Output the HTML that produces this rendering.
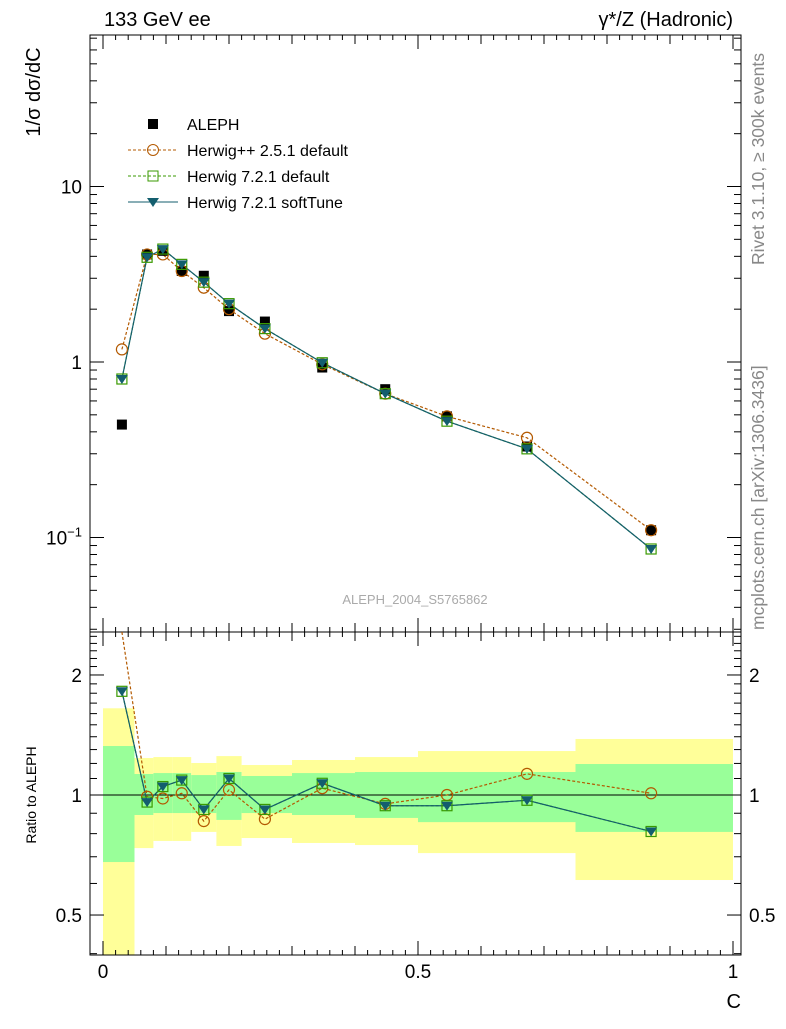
<!DOCTYPE html>
<html><head><meta charset="utf-8"><style>
body{margin:0;background:#fff;}
svg{font-family:"Liberation Sans",sans-serif;}
</style></head><body>
<svg id="chart" width="786" height="1024" viewBox="0 0 786 1024">
<g id="bands"></g>
<g id="frame"></g>
<g id="series"></g>
<text x="104" y="26" font-size="20">133 GeV ee</text>
<text x="733" y="26" font-size="20" text-anchor="end">γ*/Z (Hadronic)</text>
<text x="0" y="0" font-size="20" transform="translate(40,92) rotate(-90)" text-anchor="middle">1/σ  dσ/dC</text>
<text x="0" y="0" font-size="14" transform="translate(36,795) rotate(-90)" text-anchor="middle">Ratio to ALEPH</text>
<text x="741" y="1008" font-size="20" text-anchor="end">C</text>
<text x="0" y="0" font-size="17.5" fill="#888" transform="translate(764,265) rotate(-90)">Rivet 3.1.10, ≥ 300k events</text>
<text x="0" y="0" font-size="17.5" fill="#888" transform="translate(764,630) rotate(-90)">mcplots.cern.ch [arXiv:1306.3436]</text>
<text x="415" y="604" font-size="13" fill="#aaa" text-anchor="middle">ALEPH_2004_S5765862</text>
<g font-size="16">
 <rect x="148" y="119" width="10" height="10" fill="#000"/>
 <text x="187" y="130">ALEPH</text>
 <line x1="128" y1="150" x2="178" y2="150" stroke="#b35900" stroke-dasharray="3,2"/>
 <circle cx="153" cy="150" r="5.5" fill="none" stroke="#b35900"/>
 <text x="187" y="156">Herwig++ 2.5.1 default</text>
 <line x1="128" y1="176" x2="178" y2="176" stroke="#3a9a00" stroke-dasharray="3,2"/>
 <rect x="148" y="171" width="10" height="10" fill="none" stroke="#3a9a00"/>
 <text x="187" y="182">Herwig 7.2.1 default</text>
 <line x1="128" y1="202" x2="178" y2="202" stroke="#135e6e"/>
 <path d="M147,198 L159,198 L153,207 Z" fill="#135e6e"/>
 <text x="187" y="208">Herwig 7.2.1 softTune</text>
</g>
</svg>
<script>
const binEdges=[0,0.05,0.08,0.11,0.14,0.18,0.22,0.3,0.4,0.5,0.6,0.75,1.0];
const xCenters=[0.03,0.07,0.095,0.125,0.16,0.2,0.257,0.348,0.448,0.546,0.673,0.87];
const aleph=[0.44,4.1,4.3,3.3,3.1,1.95,1.7,0.93,0.70,0.49,0.33,0.11];
const herwigpp=[1.18,4.1,4.1,3.3,2.65,2.0,1.45,0.97,0.66,0.49,0.37,0.11];
const h721=[0.80,3.95,4.4,3.6,2.85,2.15,1.55,0.99,0.66,0.46,0.32,0.086];
const soft=[0.80,3.95,4.4,3.6,2.85,2.15,1.55,0.99,0.66,0.46,0.32,0.086];
const ratioHpp=[2.68,0.99,0.98,1.01,0.86,1.03,0.87,1.04,0.95,1.0,1.13,1.01];
const ratio721=[1.82,0.96,1.05,1.09,0.92,1.10,0.92,1.07,0.94,0.94,0.97,0.81];
const ratioSoft=[1.82,0.96,1.05,1.09,0.92,1.10,0.92,1.07,0.94,0.94,0.97,0.81];
const yellowHi=[1.65,1.238,1.245,1.245,1.203,1.252,1.189,1.224,1.245,1.289,1.289,1.382];
const yellowLo=[0.3,0.736,0.767,0.767,0.808,0.745,0.78,0.758,0.749,0.715,0.715,0.612];
const greenHi=[1.327,1.129,1.135,1.135,1.122,1.142,1.116,1.135,1.142,1.142,1.142,1.196];
const greenLo=[0.679,0.891,0.901,0.901,0.901,0.866,0.901,0.891,0.876,0.855,0.855,0.808];
const xTicks=[0,0.5,1];const xTickLabels=["0","0.5","1"];

const NS="http://www.w3.org/2000/svg";
const X=v=>103+630*v;
const Y=v=>362-175.5*Math.log10(v);
const R=v=>795-398.7*Math.log10(v);
const L=90,Rt=741,T=35,M=632,B=955;
function mk(t,a,p){const e=document.createElementNS(NS,t);for(const k in a)e.setAttribute(k,a[k]);p.appendChild(e);return e;}
const bands=document.getElementById('bands'),frame=document.getElementById('frame'),ser=document.getElementById('series');
for(let i=0;i<xCenters.length;i++){
 const x0=X(binEdges[i]),x1=X(binEdges[i+1]);
 const yh=Math.max(R(yellowHi[i]),M),yl=Math.min(R(yellowLo[i]),B);
 let e=mk('rect',{x:x0,y:yh,width:x1-x0,height:yl-yh,fill:'#ffff99'},bands);
 
 
 e=mk('rect',{x:x0,y:R(greenHi[i]),width:x1-x0,height:R(greenLo[i])-R(greenHi[i]),fill:'#99ff99'},bands);
 
 
}
mk('line',{x1:L,y1:R(1),x2:Rt,y2:R(1),stroke:'#000'},frame);
mk('rect',{x:L,y:T,width:Rt-L,height:M-T,fill:'none',stroke:'#000'},frame);
mk('rect',{x:L,y:M,width:Rt-L,height:B-M,fill:'none',stroke:'#000'},frame);
for(let d=-2;d<=1;d++)for(let m=1;m<10;m++){const v=m*Math.pow(10,d);const y=Y(v);if(y<T||y>M)continue;const len=m==1?14:7;
 mk('line',{x1:L,y1:y,x2:L+len,y2:y,stroke:'#000'},frame);mk('line',{x1:Rt,y1:y,x2:Rt-len,y2:y,stroke:'#000'},frame);}
[[10,"10"],[1,"1"]].forEach(([v,t])=>{const e=mk('text',{x:L-8,y:Y(v)+7,'font-size':19,'text-anchor':'end'},frame);e.textContent=t;});
const e01=mk('text',{x:L-8,y:Y(0.1)+7,'font-size':19,'text-anchor':'end'},frame);e01.innerHTML='10<tspan dy="-8" font-size="13">−1</tspan>';
for(let v=0.4;v<=2.6;v+=0.1){const y=R(v);if(y<M||y>B)continue;const maj=Math.abs(v-0.5)<1e-6||Math.abs(v-1)<1e-6||Math.abs(v-2)<1e-6;const len=maj?14:7;
 mk('line',{x1:L,y1:y,x2:L+len,y2:y,stroke:'#000'},frame);mk('line',{x1:Rt,y1:y,x2:Rt-len,y2:y,stroke:'#000'},frame);}
[[2,"2"],[1,"1"],[0.5,"0.5"]].forEach(([v,t])=>{let e=mk('text',{x:L-8,y:R(v)+7,'font-size':19,'text-anchor':'end'},frame);e.textContent=t;e=mk('text',{x:Rt+8,y:R(v)+7,'font-size':19},frame);e.textContent=t;});
for(let k=0;k<=50;k++){const v=k*0.02;const big=k%25==0,mid=k%5==0;const len=big?14:(mid?9:5);
 [M,B].forEach(b=>mk('line',{x1:X(v),y1:b,x2:X(v),y2:b-len,stroke:'#000'},frame));
 mk('line',{x1:X(v),y1:T,x2:X(v),y2:T+len,stroke:'#000'},frame);mk('line',{x1:X(v),y1:M,x2:X(v),y2:M+len,stroke:'#000'},frame);}
xTicks.forEach((v,i)=>{const e=mk('text',{x:X(v),y:978,'font-size':19,'text-anchor':'middle'},frame);e.textContent=xTickLabels[i];});
function line(vals,fy,color,dash,name,clip){let d='';vals.forEach((v,i)=>{let y=fy(v);if(clip)y=Math.max(y,clip);d+=(i?'L':'M')+X(xCenters[i])+','+y;});
 const p=mk('path',{d:d,fill:'none',stroke:color,'stroke-width':1.2,'stroke-dasharray':dash||''},ser);
 
 }
function circles(vals,fy,color,lo){vals.forEach((v,i)=>{const y=fy(v);if(y<lo)return;const c=mk('circle',{cx:X(xCenters[i]),cy:y,r:5.5,fill:'none',stroke:color,'stroke-width':1.2},ser);
 
 });}
function squares(vals,fy,color){vals.forEach((v,i)=>{const s=mk('rect',{x:X(xCenters[i])-5,y:fy(v)-5,width:10,height:10,fill:'none',stroke:color,'stroke-width':1.2},ser);
 
 });}
function tris(vals,fy,color){vals.forEach((v,i)=>{const x=X(xCenters[i]),y=fy(v);const t=mk('path',{d:`M${x-6},${y-4}L${x+6},${y-4}L${x},${y+5}Z`,fill:color},ser);
 
 });}
line(herwigpp,Y,'#b35900','3,2','herwigpp-line');
line(h721,Y,'#3a9a00','3,2','h721-line');
line(soft,Y,'#135e6e','','softtune-line');
aleph.forEach((v,i)=>{const s=mk('rect',{x:X(xCenters[i])-5,y:Y(v)-5,width:10,height:10,fill:'#000'},ser);
 
 });
circles(herwigpp,Y,'#b35900',0);squares(h721,Y,'#3a9a00');tris(soft,Y,'#135e6e');
line(ratioHpp,R,'#b35900','3,2','ratio-herwigpp-line',M);
line(ratio721,R,'#3a9a00','3,2','ratio-h721-line');
line(ratioSoft,R,'#135e6e','','ratio-softtune-line');
circles(ratioHpp,R,'#b35900',M);squares(ratio721,R,'#3a9a00');tris(ratioSoft,R,'#135e6e');
</script>
</body></html>
